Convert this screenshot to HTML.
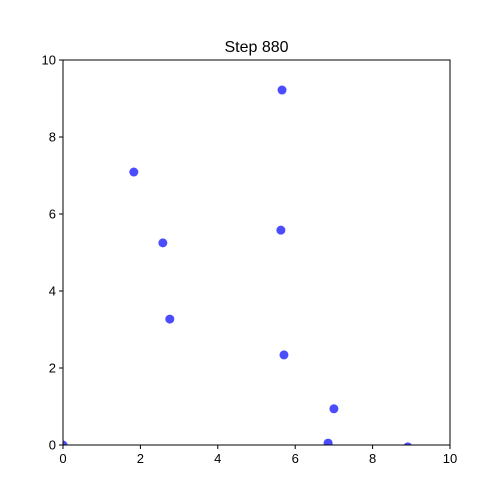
<!DOCTYPE html>
<html><head><meta charset="utf-8"><style>body{margin:0;background:#fff}svg{display:block;font-family:"Liberation Sans","DejaVu Sans",sans-serif}</style></head>
<body>
<svg id="chart" width="500" height="500">
<defs><clipPath id="clip"><rect x="63" y="60" width="387" height="385"/></clipPath></defs>
<rect width="500" height="500" fill="#fff"/>
<text x="256.5" y="52" text-anchor="middle" font-size="16">Step 880</text>
<g id="ticks"></g>
<g id="points" clip-path="url(#clip)"></g>
<rect x="63" y="60" width="387" height="385" fill="none" stroke="#000" stroke-width="1"/>
</svg>
<script>
const xValues = [5.66, 1.83, 2.58, 5.63, 2.76, 5.71, 7.00, 6.85, 0.0, 8.91];
const yValues = [9.22, 7.09, 5.25, 5.58, 3.27, 2.34, 0.94, 0.05, 0.0, -0.05];
const xTicks = [0, 2, 4, 6, 8, 10];
const yTicks = [0, 2, 4, 6, 8, 10];
const L=63,R=450,T=60,B=445;
const sx=v=>L+(v-0)/10*(R-L);
const sy=v=>B-(v-0)/10*(B-T);
const NS="http://www.w3.org/2000/svg";
const tg=document.getElementById('ticks'), pg=document.getElementById('points');
xTicks.forEach(t=>{
  const l=document.createElementNS(NS,'line');
  l.setAttribute('x1',sx(t));l.setAttribute('x2',sx(t));l.setAttribute('y1',B);l.setAttribute('y2',B+4);l.setAttribute('stroke','#000');
  
  
  tg.appendChild(l);
  const tx=document.createElementNS(NS,'text');
  tx.setAttribute('x',sx(t));tx.setAttribute('y',B+18);tx.setAttribute('text-anchor','middle');tx.setAttribute('font-size','13');
  tx.textContent=t;
  
  
  tg.appendChild(tx);
});
yTicks.forEach(t=>{
  const l=document.createElementNS(NS,'line');
  l.setAttribute('x1',L-4);l.setAttribute('x2',L);l.setAttribute('y1',sy(t));l.setAttribute('y2',sy(t));l.setAttribute('stroke','#000');
  
  
  tg.appendChild(l);
  const tx=document.createElementNS(NS,'text');
  tx.setAttribute('x',L-7);tx.setAttribute('y',sy(t)+4.5);tx.setAttribute('text-anchor','end');tx.setAttribute('font-size','13');
  tx.textContent=t;
  
  
  tg.appendChild(tx);
});
xValues.forEach((x,i)=>{
  const c=document.createElementNS(NS,'circle');
  c.setAttribute('cx',sx(x));c.setAttribute('cy',sy(yValues[i]));c.setAttribute('r',4.5);
  c.setAttribute('fill','rgba(0,0,255,0.7)');
  
  
  pg.appendChild(c);
});
</script>
</body></html>
